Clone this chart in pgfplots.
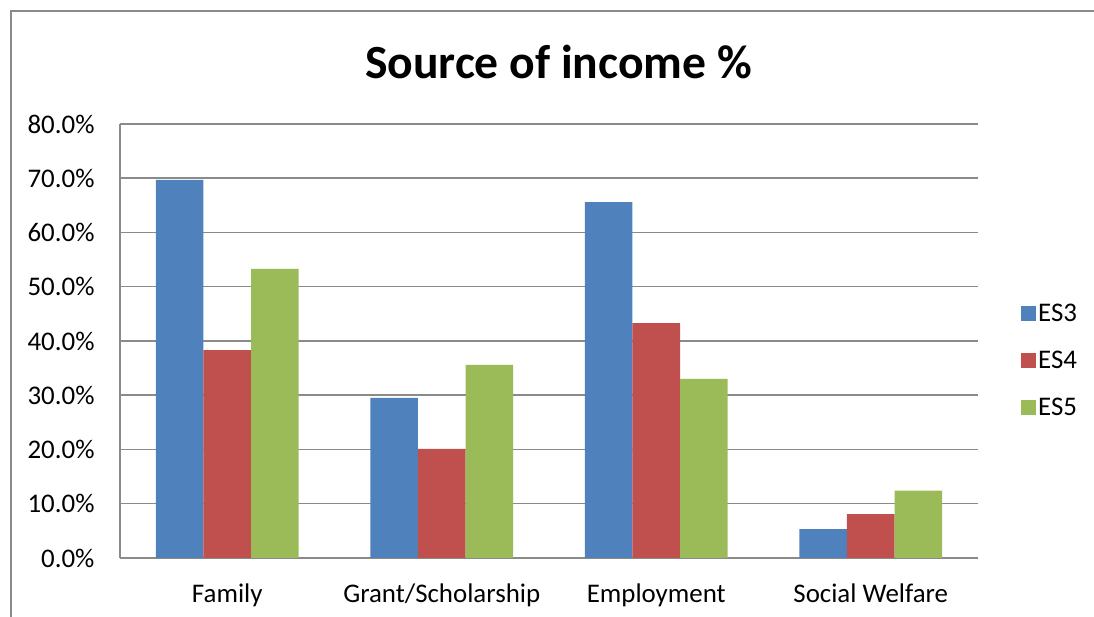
\documentclass[border=0pt]{standalone}
\usepackage{fontspec}
\setmainfont{Carlito}
\usepackage{pgfplots}
\pgfplotsset{compat=1.18}
\definecolor{cA}{HTML}{4F81BD}
\definecolor{cB}{HTML}{C0504D}
\definecolor{cC}{HTML}{9BBB59}
\definecolor{gridc}{HTML}{8A8A8A}
\begin{document}
\begin{tikzpicture}[x=1bp,y=1bp]
\useasboundingbox (0,0) rectangle (1094,617);
\draw[gridc, line width=2bp] (11,-20) -- (11,606) -- (1120,606);
\node[font=\fontsize{47.8}{50}\selectfont\bfseries] at (558.5,555) {Source of income \%};
\begin{axis}[
  at={(120bp,59bp)}, anchor=south west,
  scale only axis, width=858bp, height=434bp,
  ybar=0pt, bar width=47.6bp,
  xmin=-0.5, xmax=3.5, ymin=0, ymax=80,
  xtick={0,1,2,3},
  xticklabels={Family,Grant/Scholarship,Employment,Social Welfare},
  ytick={0,10,...,80},
  yticklabel={\pgfmathprintnumber[fixed,fixed zerofill,precision=1]{\tick}\%},
  /pgf/number format/assume math mode=true,
  major tick length=0pt,
  axis x line*=bottom, axis y line*=left,
  axis line style={gridc, line width=1.8bp},
  ymajorgrids, grid style={gridc, line width=1.5bp},
  tick label style={font=\fontsize{27}{29}\selectfont},
  yticklabel style={xshift=-22bp},
  xticklabel style={yshift=-22bp},
  legend style={at={(1.05,0.59)}, anchor=north west, draw=none,
    font=\fontsize{27}{29}\selectfont, row sep=24bp, inner sep=0pt,
    nodes={inner sep=2bp}},
  legend cell align=left,
  legend image code/.code={\fill[#1,draw=none] (0bp,-7.5bp) rectangle (15bp,7.5bp);},
  clip=false,
]
\addplot[fill=cA, draw=none] coordinates {(0,69.7) (1,29.5) (2,65.6) (3,5.3)};
\addplot[fill=cB, draw=none] coordinates {(0,38.3) (1,20.1) (2,43.3) (3,8.1)};
\addplot[fill=cC, draw=none] coordinates {(0,53.3) (1,35.6) (2,33.0) (3,12.4)};
\legend{ES3,ES4,ES5}
\end{axis}
\end{tikzpicture}
\end{document}
